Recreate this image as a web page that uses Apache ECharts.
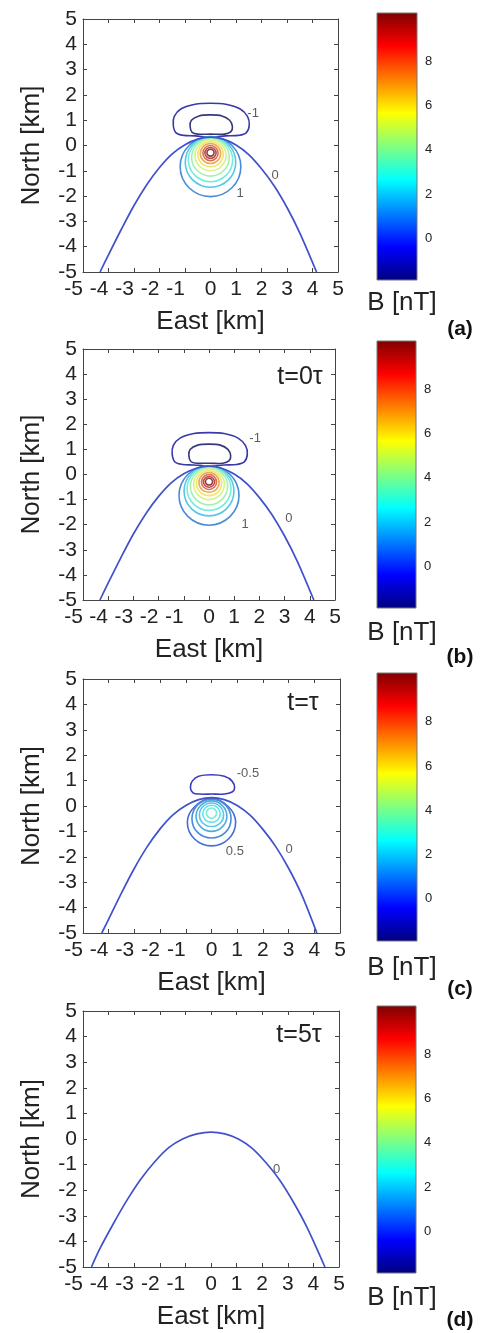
<!DOCTYPE html>
<html>
<head>
<meta charset="utf-8">
<script src="https://cdn.jsdelivr.net/npm/echarts@6/dist/echarts.min.js"></script>
<style>
html, body { margin: 0; padding: 0; background: #fff; }
#main { width: 480px; height: 1333px; }
</style>
</head>
<body>
<div id="main"></div>
<script>
// ---------- axis ticks ----------
const kmTicks = [-5, -4, -3, -2, -1, 0, 1, 2, 3, 4, 5];
const colorTicks = [0, 2, 4, 6, 8];
const colorRange = [-1.9, 10.2];

// ---------- panel (a) ----------
const levelsA = [-2, -1, 1, 2, 3, 4, 5, 6, 7, 8, 9, 10];
const loopsA = [
  [[0,0.45],[0.55,0.45],[0.8,0.55],[0.86,0.75],[0.75,1.0],[0.45,1.17],[0,1.21],[-0.45,1.17],[-0.75,1.0],[-0.8,0.75],[-0.72,0.52],[-0.5,0.45]],
  [[0,0.33],[0.6,0.38],[1.1,0.4],[1.4,0.5],[1.52,0.8],[1.45,1.15],[1.15,1.45],[0.6,1.63],[0,1.67],[-0.6,1.63],[-1.15,1.45],[-1.42,1.15],[-1.46,0.8],[-1.35,0.5],[-1.05,0.4],[-0.6,0.38]],
  [[0,0.35],[0.84,0.0],[1.19,-0.84],[0.84,-1.67],[0,-2.02],[-0.84,-1.67],[-1.19,-0.84],[-0.84,0.0]],
  [[0,0.33],[0.70,0.04],[0.99,-0.66],[0.70,-1.36],[0,-1.65],[-0.70,-1.36],[-0.99,-0.66],[-0.70,0.04]],
  [[0,0.30],[0.61,0.05],[0.87,-0.57],[0.61,-1.18],[0,-1.43],[-0.61,-1.18],[-0.87,-0.57],[-0.61,0.05]],
  [[0,0.27],[0.52,0.05],[0.74,-0.47],[0.52,-0.99],[0,-1.21],[-0.52,-0.99],[-0.74,-0.47],[-0.52,0.05]],
  [[0,0.22],[0.43,0.04],[0.61,-0.39],[0.43,-0.82],[0,-1.0],[-0.43,-0.82],[-0.61,-0.39],[-0.43,0.04]],
  [[0,0.15],[0.35,0.005],[0.50,-0.35],[0.35,-0.70],[0,-0.84],[-0.35,-0.70],[-0.50,-0.35],[-0.35,0.005]],
  [[0,0.08],[0.28,-0.04],[0.40,-0.32],[0.28,-0.60],[0,-0.71],[-0.28,-0.60],[-0.40,-0.32],[-0.28,-0.04]],
  [[0,0],[0.21,-0.09],[0.30,-0.30],[0.21,-0.51],[0,-0.60],[-0.21,-0.51],[-0.30,-0.30],[-0.21,-0.09]],
  [[0,-0.08],[0.15,-0.14],[0.22,-0.30],[0.15,-0.45],[0,-0.51],[-0.15,-0.45],[-0.22,-0.30],[-0.15,-0.14]],
  [[0,-0.15],[0.10,-0.19],[0.14,-0.29],[0.10,-0.38],[0,-0.42],[-0.10,-0.38],[-0.14,-0.29],[-0.10,-0.19]]
];
const zeroA = [[-4.33,-5],[-4.0,-4.32],[-3.5,-3.32],[-3.0,-2.37],[-2.5,-1.55],[-2.0,-0.87],[-1.5,-0.33],[-1.0,0.03],[-0.5,0.25],[0,0.33],[0.5,0.25],[1.0,0.02],[1.5,-0.36],[2.0,-0.92],[2.5,-1.6],[3.0,-2.45],[3.5,-3.45],[4.16,-5]];
const tagsA = [[1.67,1.28,'-1'],[2.53,-1.17,'0'],[1.16,-1.88,'1']];

// ---------- panel (b) ----------
const levelsB = [-2, -1, 1, 2, 3, 4, 5, 6, 7, 8, 9, 10];
const loopsB = [
  [[0,0.45],[0.55,0.45],[0.8,0.55],[0.86,0.75],[0.75,1.0],[0.45,1.17],[0,1.21],[-0.45,1.17],[-0.75,1.0],[-0.8,0.75],[-0.72,0.52],[-0.5,0.45]],
  [[0,0.33],[0.6,0.38],[1.1,0.4],[1.4,0.5],[1.52,0.8],[1.45,1.15],[1.15,1.45],[0.6,1.63],[0,1.67],[-0.6,1.63],[-1.15,1.45],[-1.42,1.15],[-1.46,0.8],[-1.35,0.5],[-1.05,0.4],[-0.6,0.38]],
  [[0,0.35],[0.84,0.0],[1.19,-0.84],[0.84,-1.67],[0,-2.02],[-0.84,-1.67],[-1.19,-0.84],[-0.84,0.0]],
  [[0,0.33],[0.70,0.04],[0.99,-0.66],[0.70,-1.36],[0,-1.65],[-0.70,-1.36],[-0.99,-0.66],[-0.70,0.04]],
  [[0,0.30],[0.61,0.05],[0.87,-0.57],[0.61,-1.18],[0,-1.43],[-0.61,-1.18],[-0.87,-0.57],[-0.61,0.05]],
  [[0,0.27],[0.52,0.05],[0.74,-0.47],[0.52,-0.99],[0,-1.21],[-0.52,-0.99],[-0.74,-0.47],[-0.52,0.05]],
  [[0,0.22],[0.43,0.04],[0.61,-0.39],[0.43,-0.82],[0,-1.0],[-0.43,-0.82],[-0.61,-0.39],[-0.43,0.04]],
  [[0,0.15],[0.35,0.005],[0.50,-0.35],[0.35,-0.70],[0,-0.84],[-0.35,-0.70],[-0.50,-0.35],[-0.35,0.005]],
  [[0,0.08],[0.28,-0.04],[0.40,-0.32],[0.28,-0.60],[0,-0.71],[-0.28,-0.60],[-0.40,-0.32],[-0.28,-0.04]],
  [[0,0],[0.21,-0.09],[0.30,-0.30],[0.21,-0.51],[0,-0.60],[-0.21,-0.51],[-0.30,-0.30],[-0.21,-0.09]],
  [[0,-0.08],[0.15,-0.14],[0.22,-0.30],[0.15,-0.45],[0,-0.51],[-0.15,-0.45],[-0.22,-0.30],[-0.15,-0.14]],
  [[0,-0.15],[0.10,-0.19],[0.14,-0.29],[0.10,-0.38],[0,-0.42],[-0.10,-0.38],[-0.14,-0.29],[-0.10,-0.19]]
];
const zeroB = [[-4.33,-5],[-4.0,-4.32],[-3.5,-3.32],[-3.0,-2.37],[-2.5,-1.55],[-2.0,-0.87],[-1.5,-0.33],[-1.0,0.03],[-0.5,0.25],[0,0.33],[0.5,0.25],[1.0,0.02],[1.5,-0.36],[2.0,-0.92],[2.5,-1.6],[3.0,-2.45],[3.5,-3.45],[4.16,-5]];
const tagsB = [[1.83,1.45,'-1'],[3.17,-1.73,'0'],[1.43,-1.97,'1']];

// ---------- panel (c) ----------
const levelsC = [-0.5, 0.5, 1.0, 1.5, 2.0, 2.5, 3.0];
const loopsC = [
  [[0,0.47],[0.5,0.47],[0.8,0.55],[0.9,0.72],[0.8,0.98],[0.5,1.17],[0,1.23],[-0.5,1.17],[-0.75,0.98],[-0.82,0.72],[-0.72,0.52],[-0.45,0.47]],
  [[0,0.30],[0.66,-0.03],[0.94,-0.64],[0.66,-1.30],[0,-1.57],[-0.66,-1.30],[-0.94,-0.64],[-0.66,-0.03]],
  [[0,0.26],[0.54,0.04],[0.76,-0.50],[0.54,-1.04],[0,-1.26],[-0.54,-1.04],[-0.76,-0.50],[-0.54,0.04]],
  [[0,0.20],[0.42,0.02],[0.60,-0.40],[0.42,-0.82],[0,-1.0],[-0.42,-0.82],[-0.60,-0.40],[-0.42,0.02]],
  [[0,0.12],[0.33,-0.02],[0.47,-0.35],[0.33,-0.68],[0,-0.81],[-0.33,-0.68],[-0.47,-0.35],[-0.33,-0.02]],
  [[0,0.03],[0.24,-0.07],[0.34,-0.31],[0.24,-0.55],[0,-0.64],[-0.24,-0.55],[-0.34,-0.31],[-0.24,-0.07]],
  [[0,-0.08],[0.14,-0.14],[0.20,-0.28],[0.14,-0.42],[0,-0.48],[-0.14,-0.42],[-0.20,-0.28],[-0.14,-0.14]]
];
const zeroC = [[-4.27,-5],[-4.0,-4.45],[-3.5,-3.42],[-3.0,-2.45],[-2.5,-1.6],[-2.0,-0.9],[-1.5,-0.35],[-1.0,0.02],[-0.5,0.25],[0,0.33],[0.5,0.25],[1.0,0.02],[1.5,-0.36],[2.0,-0.92],[2.5,-1.6],[3.0,-2.45],[3.5,-3.47],[4.1,-5]];
const tagsC = [[1.42,1.30,'-0.5'],[0.91,-1.77,'0.5'],[3.02,-1.69,'0']];

// ---------- panel (d) ----------
const levelsD = [];
const loopsD = [];
const zeroD = [[-4.67,-5],[-4.36,-4.32],[-3.82,-3.32],[-3.27,-2.37],[-2.73,-1.55],[-2.18,-0.87],[-1.64,-0.33],[-1.09,0.01],[-0.55,0.2],[0,0.27],[0.54,0.2],[1.07,0.0],[1.6,-0.36],[2.14,-0.92],[2.68,-1.6],[3.21,-2.45],[3.75,-3.45],[4.45,-5]];
const tagsD = [[2.56,-1.2,'0']];

// ---------- titles ----------
const panelLetters = ['(a)', '(b)', '(c)', '(d)'];
const timeLabels = ['', 't=0τ', 't=τ', 't=5τ'];
const unitLabel = 'B [nT]';

// ---------- layout (pixels) ----------
const plotBoxes = [
  { left: 83, top: 19,   width: 255, height: 253 },
  { left: 83, top: 349,  width: 252, height: 251 },
  { left: 83, top: 679,  width: 257, height: 254 },
  { left: 83, top: 1011, width: 256, height: 256 }
];
const barBoxes = [
  { left: 377, top: 13,   width: 40, height: 267 },
  { left: 377, top: 341,  width: 39, height: 267 },
  { left: 377, top: 673,  width: 40, height: 268 },
  { left: 377, top: 1006, width: 39, height: 267 }
];
const unitY = [303, 633, 968, 1298];
const letterY = [329, 657, 989, 1320];
const timePos = [null, [300, 377], [303, 703], [299, 1035]];

const FONT = "'Liberation Sans', Arial, Helvetica, sans-serif";
const TEXT = '#222';
const FRAME = '#444';

// MATLAB-style jet colour map
function jetRGB(t) {
  t = Math.max(0, Math.min(1, t));
  const c = v => 255 * Math.max(0, Math.min(1, v));
  return [c(1.5 - Math.abs(4 * t - 3)), c(1.5 - Math.abs(4 * t - 2)), c(1.5 - Math.abs(4 * t - 1))];
}
function rgb(a) {
  return 'rgb(' + a.map(v => Math.round(Math.max(0, Math.min(255, v)))).join(',') + ')';
}
function jet(t) { return rgb(jetRGB(t)); }
// thin contour strokes are printed a little paler and less saturated
function levelColor(v) {
  const c = jetRGB((v - colorRange[0]) / (colorRange[1] - colorRange[0]));
  const y = 0.299 * c[0] + 0.587 * c[1] + 0.114 * c[2];
  const y2 = y + 0.2 * (255 - y);
  return rgb(c.map(ch => y2 + 0.55 * (ch - y)));
}

const panels = [
  { levels: levelsA, loops: loopsA, zero: zeroA, tags: tagsA },
  { levels: levelsB, loops: loopsB, zero: zeroB, tags: tagsB },
  { levels: levelsC, loops: loopsC, zero: zeroC, tags: tagsC },
  { levels: levelsD, loops: loopsD, zero: zeroD, tags: tagsD }
];

const grid = [], xAxis = [], yAxis = [], series = [], graphic = [];

function kmLabel(v) {
  return v < 0 ? '{neg|' + v + '}' : '{pos|' + v + '}';
}
const kmRich = {
  neg: { fontSize: 21, fontFamily: FONT, color: TEXT, padding: [0, 19, 0, 0] },
  pos: { fontSize: 21, fontFamily: FONT, color: TEXT }
};
const innerTick = { show: true, inside: true, length: 4, lineStyle: { color: FRAME, width: 1 } };
const frameLine = { show: true, onZero: false, lineStyle: { color: FRAME, width: 1 } };

panels.forEach((p, i) => {
  const g = 2 * i, gb = 2 * i + 1;
  grid.push(Object.assign({ containLabel: false }, plotBoxes[i]));
  grid.push(Object.assign({ containLabel: false }, barBoxes[i]));

  // plot axes: bottom + top, left + right (box with inward ticks)
  const xb = xAxis.length;
  xAxis.push({
    type: 'value', gridIndex: g, min: -5, max: 5, interval: 1, position: 'bottom',
    axisLine: frameLine, axisTick: innerTick, splitLine: { show: false },
    axisLabel: { margin: 7, formatter: kmLabel, rich: kmRich },
    name: 'East [km]', nameLocation: 'middle', nameGap: 37,
    nameTextStyle: { fontSize: 26, fontFamily: FONT, color: TEXT }
  });
  xAxis.push({
    type: 'value', gridIndex: g, min: -5, max: 5, interval: 1, position: 'top',
    axisLine: frameLine, axisTick: innerTick, axisLabel: { show: false }, splitLine: { show: false }
  });
  const yb = yAxis.length;
  yAxis.push({
    type: 'value', gridIndex: g, min: -5, max: 5, interval: 1, position: 'left',
    axisLine: frameLine, axisTick: innerTick, splitLine: { show: false },
    axisLabel: { margin: 6, fontSize: 21, fontFamily: FONT, color: TEXT },
    name: 'North [km]', nameLocation: 'middle', nameGap: 38, nameRotate: 90,
    nameTextStyle: { fontSize: 26, fontFamily: FONT, color: TEXT }
  });
  yAxis.push({
    type: 'value', gridIndex: g, min: -5, max: 5, interval: 1, position: 'right',
    axisLine: frameLine, axisTick: innerTick, axisLabel: { show: false }, splitLine: { show: false }
  });

  // colour bar axes
  const xc = xAxis.length;
  xAxis.push({ type: 'value', gridIndex: gb, min: 0, max: 1, show: false });
  const yc = yAxis.length;
  yAxis.push({
    type: 'value', gridIndex: gb, min: colorRange[0], max: colorRange[1], position: 'right',
    axisLine: { show: false, onZero: false }, splitLine: { show: false },
    axisTick: { show: true, inside: true, length: 3, customValues: colorTicks, lineStyle: { color: '#555' } },
    axisLabel: { customValues: colorTicks, margin: 8, fontSize: 13, fontFamily: FONT, color: TEXT }
  });
  yAxis.push({
    type: 'value', gridIndex: gb, min: colorRange[0], max: colorRange[1], position: 'left',
    axisLine: { show: false, onZero: false }, splitLine: { show: false }, axisLabel: { show: false },
    axisTick: { show: true, inside: true, length: 3, customValues: colorTicks, lineStyle: { color: '#555' } }
  });

  // colour bar fill
  series.push({
    type: 'custom', xAxisIndex: xc, yAxisIndex: yc, silent: true, z: 1,
    data: [[0, colorRange[0], 1, colorRange[1]]],
    renderItem: (params, api) => {
      const a = api.coord([api.value(0), api.value(1)]);
      const b = api.coord([api.value(2), api.value(3)]);
      const stops = [];
      for (let k = 0; k <= 16; k++) stops.push({ offset: k / 16, color: jet(1 - k / 16) });
      return {
        type: 'rect',
        shape: { x: a[0], y: b[1], width: b[0] - a[0], height: a[1] - b[1] },
        style: { fill: new echarts.graphic.LinearGradient(0, 0, 0, 1, stops), stroke: '#777', lineWidth: 1 }
      };
    }
  });

  // closed contours
  if (p.loops.length) {
    series.push({
      type: 'custom', xAxisIndex: xb, yAxisIndex: yb, silent: true, clip: true, z: 3,
      data: p.levels.map((lv, k) => [0, lv, k]),
      renderItem: (params, api) => {
        const k = params.dataIndex;
        const pts = p.loops[k].map(q => api.coord(q));
        return {
          type: 'polygon',
          shape: { points: pts, smooth: 0.36 },
          style: { fill: 'none', stroke: levelColor(p.levels[k]), lineWidth: 1.6 }
        };
      }
    });
  }

  // zero contour
  series.push({
    type: 'line', xAxisIndex: xb, yAxisIndex: yb, data: p.zero, smooth: 0.3,
    showSymbol: false, silent: true, z: 3,
    lineStyle: { color: levelColor(0), width: 1.7 }
  });

  // contour value labels
  series.push({
    type: 'scatter', xAxisIndex: xb, yAxisIndex: yb, data: p.tags, symbolSize: 0, silent: true, z: 4,
    label: {
      show: true, position: 'inside', formatter: d => d.value[2],
      fontSize: 13, fontFamily: FONT, color: '#333'
    }
  });

  // texts beside the colour bar
  graphic.push({
    type: 'text', x: 402, y: unitY[i],
    style: { text: unitLabel, fontSize: 26, fontFamily: FONT, fill: TEXT, align: 'center', verticalAlign: 'middle' }
  });
  graphic.push({
    type: 'text', x: 460, y: letterY[i],
    style: { text: panelLetters[i], fontSize: 21, fontWeight: 'bold', fontFamily: FONT, fill: '#111', align: 'center', verticalAlign: 'middle' }
  });
  if (timePos[i]) {
    graphic.push({
      type: 'text', x: timePos[i][0], y: timePos[i][1],
      style: { text: timeLabels[i], fontSize: 25, fontFamily: FONT, fill: TEXT, align: 'center', verticalAlign: 'middle' }
    });
  }
});

const chart = echarts.init(document.getElementById('main'), null, { renderer: 'canvas' });
chart.setOption({
  animation: false,
  backgroundColor: '#fff',
  grid, xAxis, yAxis, series, graphic
});
</script>
</body>
</html>
